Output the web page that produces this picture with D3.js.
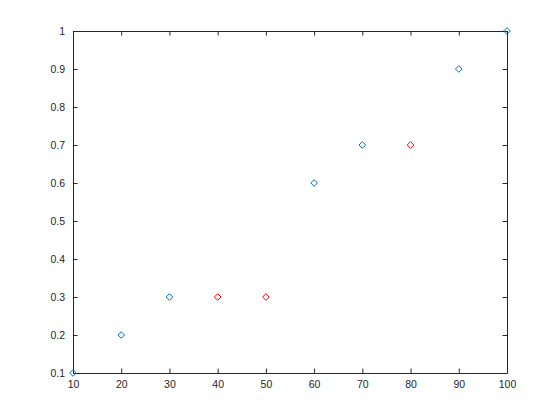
<!DOCTYPE html>
<html>
<head>
<meta charset="utf-8">
<script src="https://cdn.jsdelivr.net/npm/d3@7"></script>
<style>
  body { margin: 0; background: #fff; }
  svg { display: block; }
  .tick text { font-family: "Liberation Sans", "DejaVu Sans", sans-serif; font-size: 10.5px; fill: #262626; }
</style>
</head>
<body>
<svg id="chart" width="560" height="420"></svg>
<script>
// values
const xValues = [10, 20, 30, 40, 50, 60, 70, 80, 90, 100];
const yValues = [0.1, 0.2, 0.3, 0.3, 0.3, 0.6, 0.7, 0.7, 0.9, 1.0];
const groups = ['a', 'a', 'a', 'b', 'b', 'a', 'a', 'b', 'a', 'a'];
const xTicks = [10, 20, 30, 40, 50, 60, 70, 80, 90, 100];
const yTicks = [0.1, 0.2, 0.3, 0.4, 0.5, 0.6, 0.7, 0.8, 0.9, 1];

const points = xValues.map((x, i) => ({ x, y: yValues[i], g: groups[i] }));

const svg = d3.select('#chart');
const plotLeft = 73, plotRight = 507, plotTop = 31, plotBottom = 373;
const tickLen = 4.5;
const axisColor = '#262626';

const x = d3.scaleLinear().domain([10, 100]).range([plotLeft, plotRight]);
const y = d3.scaleLinear().domain([0.1, 1]).range([plotBottom, plotTop]);
const color = d3.scaleOrdinal().domain(['a', 'b']).range(['#0072BD', '#FF0000']);

// axes (ticks pointing inward, mirrored on the box)
const styleAxis = sel => {
  sel.select('.domain').attr('stroke', axisColor);
  sel.selectAll('.tick line').attr('stroke', axisColor);
};

svg.append('g')
  .attr('transform', `translate(0,${plotBottom})`)
  .call(d3.axisBottom(x).tickValues(xTicks).tickSizeInner(-tickLen).tickSizeOuter(0).tickPadding(8))
  .call(styleAxis);

svg.append('g')
  .attr('transform', `translate(${plotLeft},0)`)
  .call(d3.axisLeft(y).tickValues(yTicks).tickFormat(d3.format('~g')).tickSizeInner(-tickLen).tickSizeOuter(0).tickPadding(8))
  .call(styleAxis);

svg.append('g')
  .attr('transform', `translate(0,${plotTop})`)
  .call(d3.axisTop(x).tickValues(xTicks).tickFormat('').tickSizeInner(-tickLen).tickSizeOuter(0))
  .call(styleAxis);

svg.append('g')
  .attr('transform', `translate(${plotRight},0)`)
  .call(d3.axisRight(y).tickValues(yTicks).tickFormat('').tickSizeInner(-tickLen).tickSizeOuter(0))
  .call(styleAxis);

svg.selectAll('.domain').attr('stroke-width', 1);

// diamond markers
svg.append('g')
  .selectAll('path')
  .data(points)
  .enter()
  .append('path')
  .attr('d', d3.symbol().type(d3.symbolDiamond2).size(28))
  .attr('transform', d => `translate(${x(d.x)},${y(d.y)})`)
  .attr('fill', 'none')
  .attr('stroke', d => color(d.g))
  .attr('stroke-width', 1);
</script>
</body>
</html>
